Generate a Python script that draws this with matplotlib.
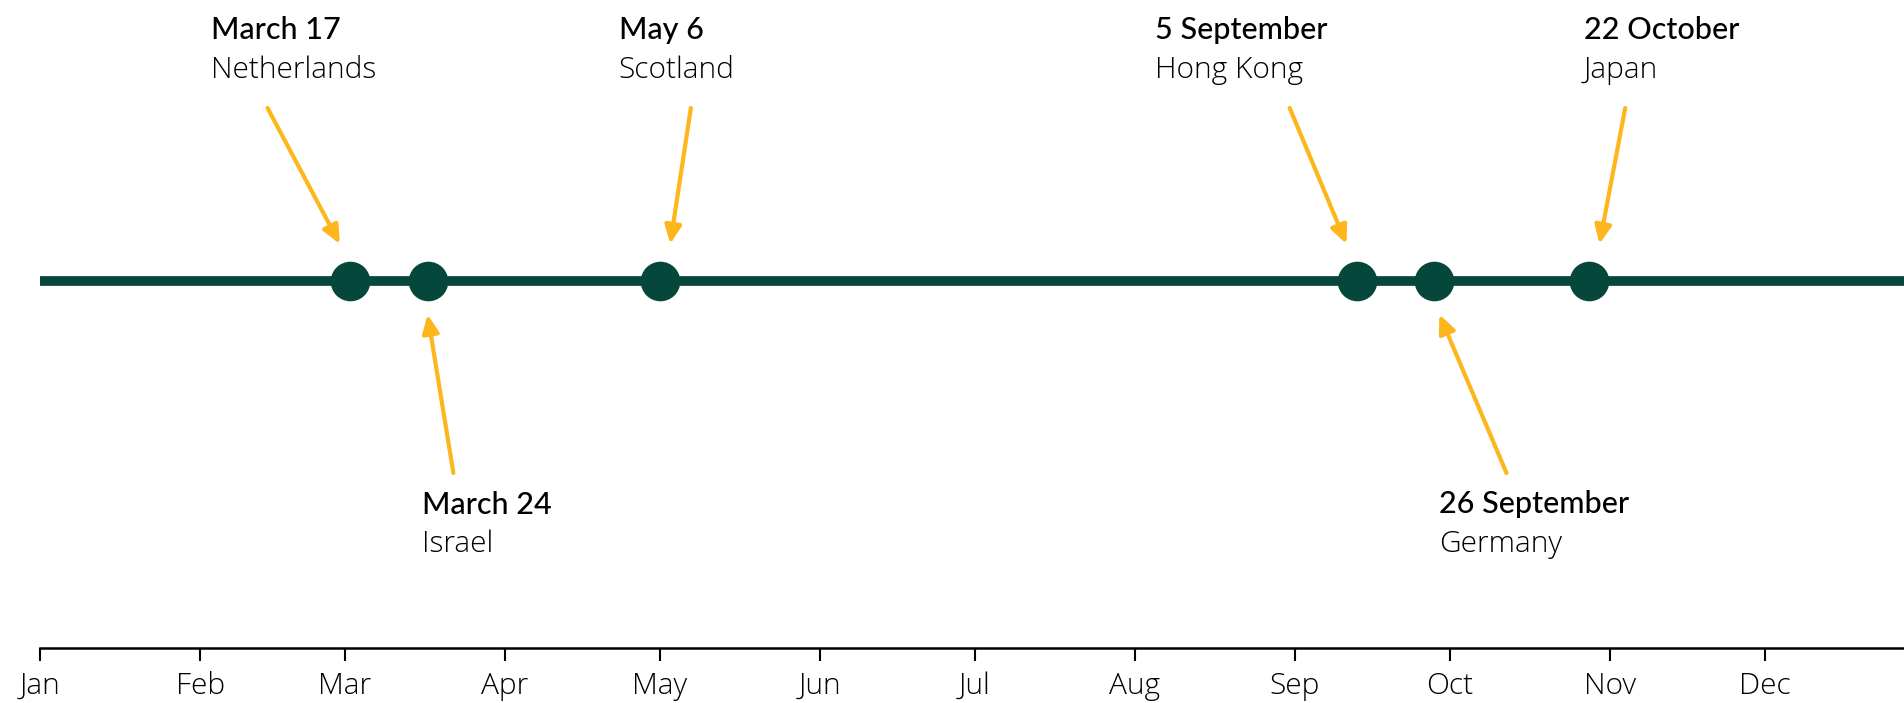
import datetime as dt
import matplotlib
matplotlib.use("Agg")
import matplotlib.pyplot as plt
import matplotlib.dates as mdates

plt.rcParams["font.family"] = ["Lato", "DejaVu Sans"]

GREEN = "#05473a"
GOLD = "#fdb71c"
LIGHT_FONT = ["Open Sans", "Lato", "DejaVu Sans"]

YEAR_START = dt.date(2021, 1, 1)

# dots on the timeline (days after Jan 1)
event_days = [60, 75, 120, 255, 270, 300]
event_dates = ["March 17", "March 24", "May 6", "5 September", "26 September", "22 October"]
countries = ["Netherlands", "Israel", "Scotland", "Hong Kong", "Germany", "Japan"]
sides = ["top", "bottom", "top", "top", "bottom", "top"]

# label / arrow placement (days after Jan 1)
text_days = [33.3, 74.4, 112.1, 216.8, 271.7, 299.6]
tail_days = [44.9, 80.1, 126.0, 242.6, 284.6, 307.7]
head_days = [58.1, 75.9, 122.0, 253.1, 271.9, 302.3]


def day(d):
    return YEAR_START + dt.timedelta(days=d)


def main():
    fig = plt.figure(figsize=(19.04, 7.03), dpi=100)
    ax = fig.add_axes([40.4 / 1904, 1 - 647.7 / 703, 1 - 40.4 / 1904, 647.7 / 703])

    x0 = day(0)
    x1 = day(361.6)
    ax.set_xlim(x0, x1)
    ax.set_ylim(0, 1)

    line_y = 1 - 280.7 / 647.7
    ax.plot([x0, x1], [line_y, line_y], color=GREEN, lw=7, solid_capstyle="butt", zorder=2)
    ax.plot([day(d) for d in event_days], [line_y] * len(event_days), "o",
            color=GREEN, markersize=27.5, zorder=3)

    for i in range(len(event_days)):
        if sides[i] == "top":
            y_date, y_country = 1 - 39.3 / 647.7, 1 - 78.3 / 647.7
            y_tail, y_head = 1 - 108 / 647.7, 1 - 244 / 647.7
        else:
            y_date, y_country = 1 - 513.5 / 647.7, 1 - 551.7 / 647.7
            y_tail, y_head = 1 - 473 / 647.7, 1 - 314.5 / 647.7

        ax.text(day(text_days[i]), y_date, event_dates[i], fontsize=22,
                fontweight=500, color="black", ha="left", va="baseline")
        ax.text(day(text_days[i]), y_country, countries[i], fontsize=21.5,
                fontweight=300, family=LIGHT_FONT, color="black",
                ha="left", va="baseline")
        ax.annotate(
            "",
            xy=(day(head_days[i]), y_head),
            xytext=(day(tail_days[i]), y_tail),
            arrowprops=dict(arrowstyle="-|>,head_length=1.1,head_width=0.5",
                            color=GOLD, lw=3, shrinkA=0, shrinkB=0),
        )

    ax.xaxis.set_major_locator(mdates.MonthLocator())
    ax.xaxis.set_major_formatter(mdates.DateFormatter("%b"))
    ax.tick_params(axis="x", length=9, width=1.5, pad=8, labelsize=21.5)
    for lab in ax.get_xticklabels():
        lab.set_fontweight(300)
        lab.set_family(LIGHT_FONT)
    ax.set_yticks([])
    for s in ["top", "left", "right"]:
        ax.spines[s].set_visible(False)
    ax.spines["bottom"].set_linewidth(1.8)

    fig.savefig("out.png", dpi=100)
    plt.close(fig)


if __name__ == "__main__":
    main()
